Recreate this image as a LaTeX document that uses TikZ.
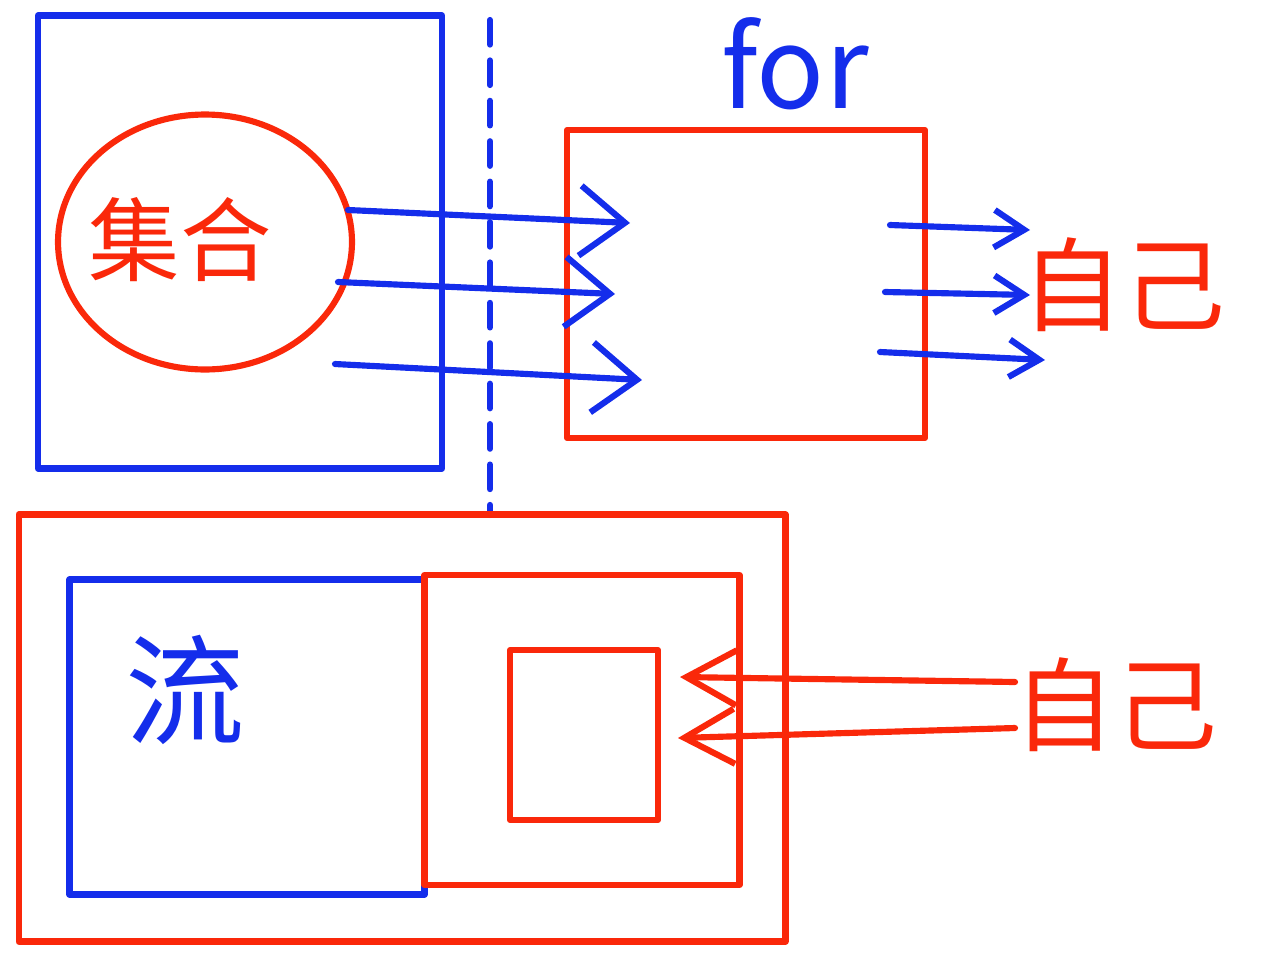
\documentclass[tikz,border=0pt]{standalone}
\usepackage{fontspec}
\newfontfamily\cjk{Noto Sans CJK SC}
\usepackage{xcolor}
\usetikzlibrary{shapes.geometric, arrows.meta}
\definecolor{penred}{RGB}{250,40,10}
\definecolor{penblue}{RGB}{20,45,235}

\begin{document}
\begin{tikzpicture}[x=0.02cm, y=-0.02cm, line width=3.5pt, line cap=round, line join=round,
    box/.style={draw, rectangle, inner sep=0pt},
    bigtip/.style={-{Straight Barb[length=0.9cm, width=1.4cm]}},
    smalltip/.style={-{Straight Barb[length=0.6cm, width=0.75cm]}},
    backtip/.style={-{Straight Barb[length=1cm, width=1.1cm]}},
    hand/.style={font=\cjk\fontsize{#1}{#1}\selectfont}]
    \useasboundingbox (0,0) rectangle (1274,964);

    % 1. Upper left: blue frame with the red set
    \node[box, penblue, minimum width=8.08cm, minimum height=9.06cm] (frame) at (240,242) {};
    \node[draw, penred, ellipse, minimum width=5.88cm, minimum height=5.1cm] (set) at (205,242) {};
    \node[penred, hand=52] (jihe) at (180,240) {集合};

    % 2. Dashed separator
    \coordinate (cutT) at (490,20);
    \coordinate (cutB) at (490,515);
    \draw[penblue, dash pattern=on 14pt off 9pt] (cutT) -- (cutB);

    % 3. The for box and its label
    \node[box, penred, minimum width=7.16cm, minimum height=6.16cm] (loop) at (746,284) {};
    \node[penblue, hand=64] (forlabel) at (795,64) {for};
    \node[penred, hand=58] (zijiA) at (1123,285) {自己};

    % 4. Elements going into the loop
    \coordinate (inA) at (348,210);  \coordinate (inA') at (630,223);
    \coordinate (inB) at (338,282);  \coordinate (inB') at (615,294);
    \coordinate (inC) at (335,364);  \coordinate (inC') at (642,380);
    \draw[penblue, bigtip] (inA) -- (inA');
    \draw[penblue, bigtip] (inB) -- (inB');
    \draw[penblue, bigtip] (inC) -- (inC');

    % 5. From the loop to yourself
    \coordinate (outA) at (890,225); \coordinate (outA') at (1030,230);
    \coordinate (outB) at (885,292); \coordinate (outB') at (1030,295);
    \coordinate (outC) at (880,352); \coordinate (outC') at (1045,360);
    \draw[penblue, smalltip] (outA) -- (outA');
    \draw[penblue, smalltip] (outB) -- (outB');
    \draw[penblue, smalltip] (outC) -- (outC');

    % 6. Lower part: stream
    \node[box, penred, minimum width=15.34cm, minimum height=8.54cm] (outer) at (402,728) {};
    \node[box, penblue, minimum width=7.1cm, minimum height=6.3cm] (stream) at (247,737) {};
    \node[penblue, hand=68] (liu) at (185,690) {流};
    \node[box, penred, minimum width=6.3cm, minimum height=6.2cm] (inner) at (582,730) {};
    \node[box, penred, minimum width=2.96cm, minimum height=3.4cm] (slot) at (584,735) {};
    \node[penred, hand=58] (zijiB) at (1115,705) {自己};

    % 7. Yourself pushes into the stream
    \coordinate (backA) at (1015,682); \coordinate (backA') at (680,677);
    \coordinate (backB) at (1015,728); \coordinate (backB') at (678,738);
    \draw[penred, backtip] (backA) -- (backA');
    \draw[penred, backtip] (backB) -- (backB');

\end{tikzpicture}
\end{document}
